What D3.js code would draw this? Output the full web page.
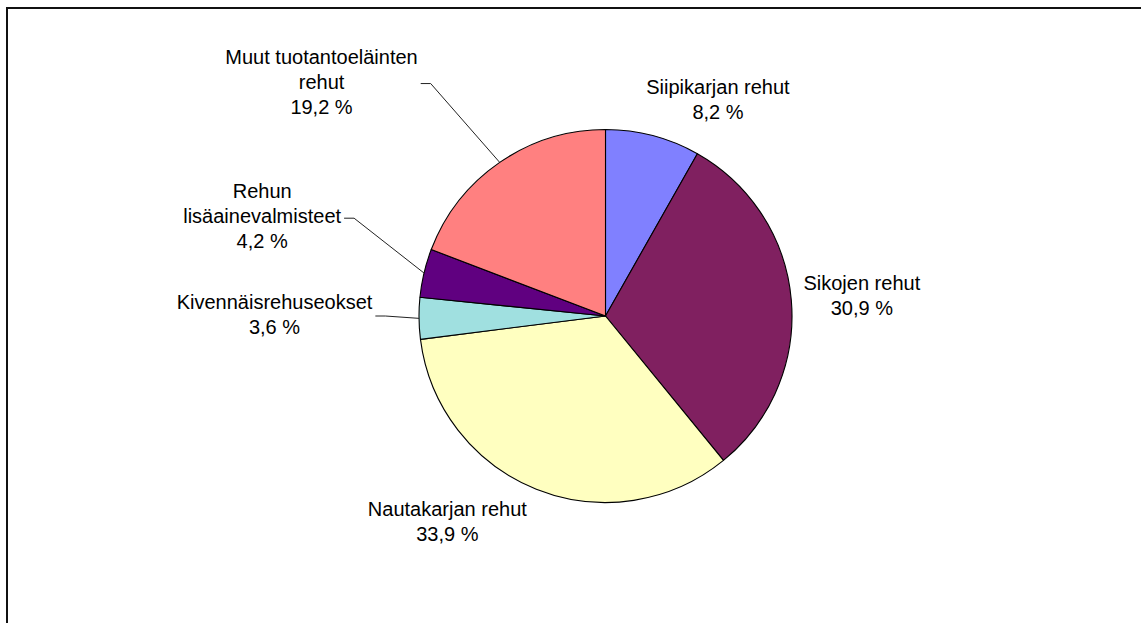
<!DOCTYPE html>
<html>
<head>
<meta charset="utf-8">
<script src="https://cdn.jsdelivr.net/npm/d3@7"></script>
<style>
  html, body { margin: 0; padding: 0; background: #fff; }
  svg text { font-family: "Liberation Sans", Arial, sans-serif; fill: #000; }
</style>
</head>
<body>
<svg id="chart" width="1141" height="623"></svg>
<script>
// Chart data (shares in %)
const categories = [
  "Siipikarjan rehut",
  "Sikojen rehut",
  "Nautakarjan rehut",
  "Kivennäisrehuseokset",
  "Rehun lisäainevalmisteet",
  "Muut tuotantoeläinten rehut"
];
const shares = [8.2, 30.9, 33.9, 3.6, 4.2, 19.2];
const percentLabels = ["8,2 %", "30,9 %", "33,9 %", "3,6 %", "4,2 %", "19,2 %"];
// how each category name is broken into lines in the label
const labelLines = [
  ["Siipikarjan rehut"],
  ["Sikojen rehut"],
  ["Nautakarjan rehut"],
  ["Kivennäisrehuseokset"],
  ["Rehun", "lisäainevalmisteet"],
  ["Muut tuotantoeläinten", "rehut"]
];
const sliceColors = ["#8080FF", "#802060", "#FFFFC0", "#A0E0E0", "#600080", "#FF8080"];

// Label placement: angle (deg, clockwise from 12 o'clock) and distance from centre
const labelPlacement = [
  { angle: 27.7, dist: 242, leader: false },
  { angle: 85.9, dist: 257, leader: false },
  { angle: 217.3, dist: 261, leader: false },
  { angle: 270, dist: 331, leader: true },
  { angle: 285.9, dist: 357, leader: true },
  { angle: 309.3, dist: 367, leader: true }
];

const width = 1141, height = 623;
const cx = 605.5, cy = 316, radius = 186.5;
const fontSize = 20, lineGap = 25;

const svg = d3.select("#chart");

// Chart area frame (only top and left edges fall inside the picture)
svg.append("rect")
  .attr("x", 7)
  .attr("y", 8)
  .attr("width", width + 20)
  .attr("height", height + 20)
  .attr("fill", "none")
  .attr("stroke", "#111")
  .attr("stroke-width", 2);

const pie = d3.pie().sort(null).value(d => d);
const arcs = pie(shares);
const arc = d3.arc().innerRadius(0).outerRadius(radius);

const g = svg.append("g").attr("transform", `translate(${cx},${cy})`);

// Drawing slices
g.selectAll("path.slice")
  .data(arcs)
  .enter()
  .append("path")
  .attr("class", "slice")
  .attr("d", arc)
  .attr("fill", (d, i) => sliceColors[i])
  .attr("stroke", "#000")
  .attr("stroke-width", 1.1)
  .attr("stroke-linejoin", "round");

// Add labels
arcs.forEach((d, i) => {
  const place = labelPlacement[i];
  const [lx, ly] = d3.pointRadial(place.angle * Math.PI / 180, place.dist);
  const lines = labelLines[i].concat([percentLabels[i]]);
  const n = lines.length;
  const firstBase = ly - (n - 1) * lineGap / 2 + 5;

  const label = g.append("g").attr("class", "label");
  const texts = lines.map((line, k) =>
    label.append("text")
      .attr("x", lx)
      .attr("y", firstBase + k * lineGap)
      .attr("text-anchor", "middle")
      .attr("font-size", fontSize + "px")
      .text(line)
  );

  if (place.leader) {
    const maxW = d3.max(texts, t => t.node().getComputedTextLength());
    const x0 = lx + maxW / 2 + 3;
    const mid = (d.startAngle + d.endAngle) / 2;
    const [ex, ey] = d3.pointRadial(mid, radius);
    const pts = [[x0, ly], [x0 + 10, ly], [ex, ey]];
    g.append("path")
      .attr("d", d3.line()(pts))
      .attr("fill", "none")
      .attr("stroke", "#222")
      .attr("stroke-width", 1);
  }
});
</script>
</body>
</html>
